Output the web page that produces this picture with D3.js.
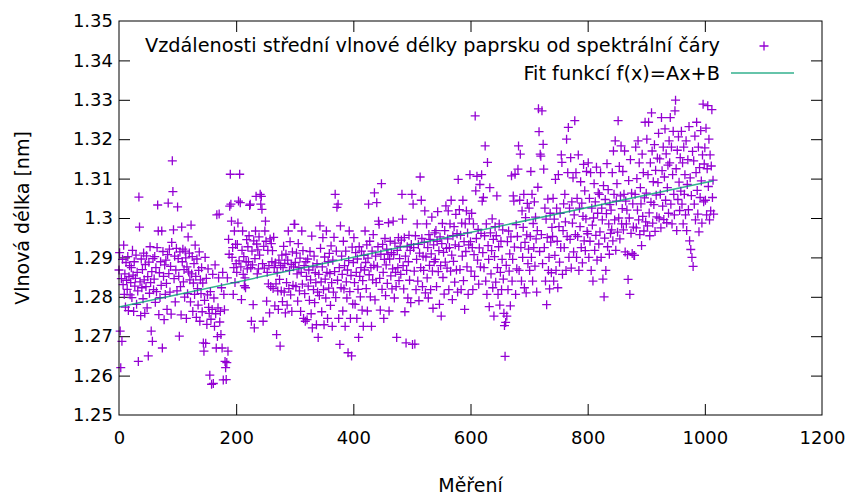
<!DOCTYPE html>
<html><head><meta charset="utf-8">
<script src="https://cdn.jsdelivr.net/npm/d3@7"></script>
<style>
body{margin:0;background:#fff}
text{font-family:"DejaVu Sans",sans-serif;fill:#000}
</style>
</head><body>
<svg id="chart" width="848" height="497"></svg>
<script>
// ---------- data ----------
const xTickValues = [0, 200, 400, 600, 800, 1000, 1200];
const xTickLabels = ["0", "200", "400", "600", "800", "1000", "1200"];
const yTickValues = [1.25, 1.26, 1.27, 1.28, 1.29, 1.30, 1.31, 1.32, 1.33, 1.34, 1.35];
const yTickLabels = ["1.25", "1.26", "1.27", "1.28", "1.29", "1.3", "1.31", "1.32", "1.33", "1.34", "1.35"];
const xTitle = "Měření";
const yTitle = "Vlnová délka [nm]";
const seriesLabel = "Vzdálenosti střední vlnové délky paprsku od spektrální čáry";
const fitLabel = "Fit funkcí f(x)=Ax+B";
const fitA = 0.0000316;   // slope
const fitB = 1.2774;      // intercept
const fitRange = [0, 1015];
const measurementStart = 0; // measurement number of the first value
const wavelengths = [
1.2868,1.2912,1.2713,1.2620,1.2846,1.2687,1.2895,1.2831,1.2931,1.2806,1.2858,1.2774,1.2887,1.2842,1.2819,1.2902,1.2765,1.2851,1.2879,1.2805,
1.2836,1.2874,1.2798,1.2918,1.2855,1.2763,1.2889,1.2827,1.2847,1.2906,1.2781,1.2862,1.2815,1.2636,1.3053,1.2977,1.2838,1.2752,1.2896,1.2823,
1.2869,1.2795,1.2911,1.2843,1.2758,1.2882,1.2826,1.2904,1.2772,1.2851,1.2650,1.2888,1.2809,1.2927,1.2836,1.2713,1.2864,1.2687,1.2897,1.2818,
1.2845,1.2902,1.2786,1.2874,1.2813,1.2925,1.3033,1.2967,1.2755,1.2861,1.2798,1.2889,1.2829,1.2967,1.2670,1.2915,1.2852,1.2742,1.2881,1.2806,
1.2893,1.2834,1.2768,1.2907,1.3038,1.2859,1.2921,1.2812,1.2877,1.2756,1.2938,1.3145,1.3067,1.2970,1.2846,1.2903,1.2787,1.2868,1.2923,1.2815,
1.3028,1.2897,1.2852,1.2700,1.2914,1.2826,1.2754,1.2977,1.2889,1.2921,1.2838,1.2869,1.2799,1.2916,1.2899,1.2745,1.2876,1.2808,1.2952,1.2863,
1.2911,1.2843,1.2787,1.2982,1.2858,1.2902,1.2763,1.2835,1.2884,1.2806,1.2931,1.2852,1.2748,1.2896,1.2821,1.2779,1.2867,1.2914,1.2738,1.2843,
1.2808,1.2874,1.2762,1.2835,1.2683,1.2662,1.2791,1.2900,1.2682,1.2847,1.2730,1.2805,1.2871,1.2773,1.2758,1.2601,1.2813,1.2743,1.2578,1.2768,
1.2857,1.2580,1.2797,1.2725,1.2881,1.2757,1.2670,1.3008,1.2699,1.2772,1.2848,1.3010,1.2736,1.2763,1.2704,1.2823,1.2670,1.2862,1.2589,1.2806,
1.2767,1.2636,1.2620,1.2590,1.2633,1.2848,1.2662,1.2946,1.2908,1.3030,1.3111,1.3035,1.2992,1.2900,1.2925,1.2806,1.2874,1.2967,1.2836,1.2933,
1.2884,1.2862,1.2933,1.2987,1.3043,1.2891,1.3111,1.3039,1.2876,1.2793,1.2918,1.2967,1.2857,1.2902,1.2828,1.2848,1.2823,1.2889,1.2945,1.2871,
1.2927,1.2889,1.2955,1.3032,1.3035,1.2874,1.2738,1.2916,1.2881,1.2780,1.2942,1.2721,1.2897,1.2967,1.3055,1.2934,1.2858,1.2919,1.2871,1.2952,
1.2906,1.3060,1.3035,1.3055,1.3022,1.2884,1.2738,1.2928,1.2873,1.2967,1.2992,1.2941,1.2789,1.2862,1.2918,1.2833,1.2879,1.2759,1.2947,1.2826,
1.2935,1.2889,1.2917,1.2821,1.2951,1.2874,1.2777,1.2886,1.2833,1.2704,1.2862,1.2815,1.2768,1.2893,1.2844,1.2675,1.2879,1.2815,1.2906,1.2788,
1.2874,1.2928,1.2812,1.2885,1.2759,1.2908,1.2836,1.2779,1.2893,1.2967,1.2821,1.2867,1.2940,1.2805,1.2882,1.2763,1.2914,1.2829,1.2876,1.2984,
1.2984,1.2887,1.2826,1.2911,1.2858,1.2789,1.2935,1.2874,1.2815,1.2898,1.2763,1.2862,1.2967,1.2832,1.2917,1.2745,1.2879,1.2808,1.2738,1.2889,
1.2852,1.2742,1.2896,1.2827,1.2868,1.2791,1.2915,1.2843,1.2757,1.2954,1.2721,1.2876,1.2818,1.2903,1.2785,1.2861,1.2836,1.2729,1.2884,1.2812,
1.2697,1.2857,1.2803,1.2980,1.2923,1.2838,1.2762,1.2876,1.2950,1.2818,1.2729,1.2901,1.2845,1.2797,1.2967,1.2862,1.2745,1.2889,1.2822,1.2910,
1.2859,1.2778,1.2929,1.2836,1.2725,1.2893,1.2812,1.2951,1.2864,1.3060,1.2798,1.2916,1.3027,1.2842,1.3035,1.2745,1.2874,1.2679,1.2980,1.2823,
1.2903,1.2857,1.2764,1.2941,1.2820,1.2879,1.2725,1.2916,1.2838,1.2797,1.2868,1.2658,1.2892,1.2967,1.2813,1.2745,1.2854,1.2650,1.2926,1.2782,
1.2887,1.2950,1.2836,1.2781,1.2912,1.2862,1.2745,1.2896,1.2819,1.2697,1.2927,1.2852,1.2800,1.2874,1.2916,1.2766,1.2841,1.2725,1.2905,1.2868,
1.2967,1.2887,1.2821,1.2932,1.2764,1.2898,1.3035,1.2856,1.2941,1.2800,1.2874,1.2725,1.2916,1.2843,1.2958,1.2880,1.3064,1.2792,1.2903,1.2836,
1.3039,1.2876,1.2927,1.2992,1.2984,1.2847,1.2766,1.2908,1.3087,1.2819,1.2933,1.2862,1.2745,1.2895,1.2948,1.2803,1.2881,1.2921,1.2834,1.2908,
1.2988,1.2764,1.2896,1.2941,1.2853,1.2912,1.2820,1.2871,1.2992,1.2907,1.2797,1.2936,1.2862,1.2826,1.2697,1.2918,1.2874,1.2950,1.2841,1.2897,
1.2928,1.2857,1.2944,1.3060,1.2997,1.2879,1.2820,1.2950,1.2762,1.2903,1.2683,1.2867,1.2927,1.2797,1.2889,1.2956,1.2842,1.2918,1.2785,1.2933,
1.3060,1.2679,1.3035,1.2925,1.2865,1.2680,1.2955,1.2818,1.2895,1.2985,1.2840,1.2933,1.2790,1.2911,1.3104,1.2874,1.3045,1.2948,1.2826,1.2903,
1.2867,1.2938,1.3018,1.2810,1.2901,1.2985,1.2848,1.2925,1.2797,1.2958,1.2880,1.2946,1.2818,1.2909,1.3002,1.2865,1.2771,1.2932,1.2889,1.2962,
1.2895,1.2968,1.2826,1.2941,1.3016,1.2864,1.2917,1.2781,1.2952,1.2879,1.2751,1.2935,1.2986,1.2849,1.2913,1.2807,1.2968,1.2888,1.3031,1.2923,
1.2873,1.2947,1.3018,1.2818,1.2925,1.2985,1.2865,1.3045,1.2906,1.2793,1.2955,1.2890,1.2978,1.2837,1.2932,1.3009,1.2868,1.2960,1.2812,1.3098,
1.2928,1.3021,1.2869,1.2956,1.2818,1.2987,1.2903,1.3045,1.2841,1.2940,1.2768,1.2985,1.2915,1.3018,1.2876,1.2962,1.2806,1.2932,1.2998,1.3110,
1.2940,1.2865,1.3012,1.2925,1.2818,1.2985,1.2907,1.2852,1.3259,1.3069,1.2948,1.3106,1.2893,1.2971,1.2832,1.2924,1.3085,1.2876,1.2961,1.3110,
1.3043,1.2912,1.3052,1.2874,1.2955,1.3183,1.2840,1.2985,1.2806,1.3141,1.2930,1.2895,1.2775,1.3077,1.2962,1.2858,1.2917,1.2998,1.2823,1.2946,
1.2751,1.2902,1.2978,1.2837,1.2955,1.3056,1.2874,1.2806,1.2927,1.2985,1.2779,1.2862,1.2941,1.2818,1.2895,1.2970,1.2845,1.2758,1.2727,1.2649,
1.2735,1.2880,1.2751,1.2940,1.2818,1.2967,1.2865,1.2909,1.2777,1.2952,1.3107,1.2840,1.2895,1.3056,1.3043,1.2926,1.3111,1.2806,1.2983,1.2871,
1.2953,1.3124,1.3183,1.2867,1.3045,1.3162,1.2925,1.2840,1.3018,1.2900,1.2976,1.3060,1.2823,1.2938,1.3001,1.2810,1.2957,1.3037,1.2884,1.2921,
1.3025,1.2867,1.2953,1.3118,1.2900,1.3060,1.2840,1.2986,1.2925,1.3041,1.2878,1.3002,1.2947,1.2812,1.2968,1.3078,1.3277,1.3219,1.2915,1.3162,
1.3157,1.2958,1.3272,1.2884,1.3187,1.3124,1.2925,1.3025,1.2840,1.2997,1.2780,1.2950,1.3048,1.2867,1.2900,1.2820,1.3012,1.2939,1.2861,1.2976,
1.2953,1.3050,1.2840,1.2997,1.2905,1.3098,1.2867,1.3025,1.2941,1.2823,1.3110,1.2978,1.2888,1.3012,1.2925,1.3160,1.3141,1.2857,1.2968,1.3036,
1.2925,1.3060,1.2990,1.2867,1.3200,1.2953,1.3115,1.3230,1.2900,1.3025,1.2946,1.3153,1.2873,1.3041,1.2987,1.3102,1.2914,1.3008,1.3247,1.2958,
1.3115,1.2900,1.3050,1.2953,1.3160,1.2867,1.3025,1.2978,1.3092,1.2925,1.3038,1.2886,1.3004,1.3136,1.2942,1.3069,1.2917,1.2998,1.3118,1.2966,
1.2960,1.3140,1.2900,1.3050,1.2941,1.3115,1.2867,1.3025,1.2982,1.2840,1.3000,1.3087,1.2918,1.3041,1.2956,1.3129,1.2893,1.3012,1.3064,1.2934,
1.3060,1.2965,1.3115,1.2900,1.3025,1.2995,1.2845,1.3082,1.2800,1.2949,1.3047,1.2867,1.3011,1.3138,1.2927,1.3072,1.2985,1.2908,1.3034,1.2961,
1.3020,1.2970,1.3115,1.2942,1.3170,1.3060,1.2995,1.3196,1.2918,1.3043,1.3087,1.2964,1.3247,1.3000,1.3131,1.2947,1.3056,1.3183,1.2985,1.3024,
1.3118,1.2970,1.3060,1.3170,1.2914,1.3043,1.2985,1.3020,1.2907,1.2844,1.3095,1.3000,1.2806,1.3148,1.2961,1.3063,1.2910,1.3036,1.2977,1.2905,
1.2905,1.3060,1.3180,1.2975,1.3100,1.3020,1.3196,1.2995,1.3140,1.2958,1.3077,1.3036,1.2930,1.3162,1.3004,1.3115,1.2967,1.3051,1.3243,1.2990,
1.3063,1.3200,1.2980,1.3110,1.3243,1.3013,1.2955,1.3140,1.3040,1.3267,1.3170,1.2987,1.3092,1.3034,1.3186,1.2966,1.3121,1.3058,1.3003,1.3152,
1.3090,1.3215,1.3000,1.3150,1.3060,1.2975,1.3255,1.3120,1.3030,1.3180,1.2996,1.3104,1.3226,1.3045,1.3163,1.2988,1.3077,1.3134,1.3012,1.3196,
1.3140,1.3255,1.3035,1.3180,1.2985,1.3110,1.3220,1.3060,1.3008,1.3272,1.3299,1.3125,1.2968,1.3172,1.3047,1.3206,1.3091,1.3019,1.3153,1.3068,
1.3220,1.3035,1.3140,1.2985,1.3180,1.3060,1.3110,1.3008,1.3196,1.2968,1.3085,1.3148,1.3021,1.3232,1.2942,1.3102,1.2920,1.3057,1.2900,1.3169,
1.2877,1.3145,1.3035,1.3208,1.2995,1.3115,1.3243,1.3070,1.3010,1.3180,1.2965,1.3128,1.3052,1.3222,1.3094,1.2987,1.3160,1.3289,1.3041,1.3137,
1.3178,1.3045,1.3228,1.3008,1.3125,1.3285,1.3080,1.3200,1.2995,1.3160,1.3018,1.3132,1.3275,1.3052,1.3096,1.3010
];

// ---------- drawing ----------
const W = 848, H = 497;
const plot = {left: 119, right: 822, top: 21, bottom: 415};
const pointColor = "#9400d3", fitColor = "#009e73";

const svg = d3.select("#chart");
const x = d3.scaleLinear().domain([xTickValues[0], xTickValues[xTickValues.length - 1]]).range([plot.left, plot.right]);
const y = d3.scaleLinear().domain([yTickValues[0], yTickValues[yTickValues.length - 1]]).range([plot.bottom, plot.top]);

const tickLen = 11;
const fmtX = (d) => xTickLabels[xTickValues.indexOf(d)];
const fmtY = (d) => yTickLabels[yTickValues.indexOf(d)];

function styleAxis(g, showText) {
  g.select(".domain").remove();
  g.selectAll(".tick line").attr("stroke", "#000").attr("stroke-width", 1);
  if (!showText) g.selectAll(".tick text").remove();
  else g.selectAll(".tick text").attr("font-size", 18).attr("font-family", "DejaVu Sans").attr("fill", "#000");
}

// bottom & left axes with labels (ticks pointing inward)
svg.append("g").attr("transform", `translate(0,${plot.bottom})`)
  .call(d3.axisBottom(x).tickValues(xTickValues).tickFormat(fmtX).tickSizeInner(-tickLen).tickSizeOuter(0).tickPadding(16))
  .call(g => styleAxis(g, true));
svg.append("g").attr("transform", `translate(${plot.left},0)`)
  .call(d3.axisLeft(y).tickValues(yTickValues).tickFormat(fmtY).tickSizeInner(-tickLen).tickSizeOuter(0).tickPadding(6))
  .call(g => styleAxis(g, true));
// mirrored ticks top & right
svg.append("g").attr("transform", `translate(0,${plot.top})`)
  .call(d3.axisTop(x).tickValues(xTickValues.slice(1, -1)).tickSizeInner(-tickLen).tickSizeOuter(0))
  .call(g => styleAxis(g, false));
svg.append("g").attr("transform", `translate(${plot.right},0)`)
  .call(d3.axisRight(y).tickValues(yTickValues.slice(1, -1)).tickSizeInner(-tickLen).tickSizeOuter(0))
  .call(g => styleAxis(g, false));
// remove corner ticks that coincide with the frame
svg.selectAll(".tick").filter(d => d === xTickValues[0] || d === xTickValues[xTickValues.length-1] || d === yTickValues[0] || d === yTickValues[yTickValues.length-1])
  .select("line").remove();

// data points
const points = wavelengths.map((v, i) => ({m: measurementStart + i, v}));
const cross = "M-4.5,0H4.5M0,-4.5V4.5";
svg.append("g").selectAll("path").data(points).join("path")
  .attr("d", cross)
  .attr("transform", d => `translate(${x(d.m)},${y(d.v)})`)
  .attr("stroke", pointColor).attr("stroke-width", 1.3).attr("fill", "none");

// fit line
const fitPts = fitRange.map(m => [m, fitA * m + fitB]);
svg.append("path")
  .attr("d", d3.line().x(d => x(d[0])).y(d => y(d[1]))(fitPts))
  .attr("stroke", fitColor).attr("stroke-width", 1.5).attr("fill", "none").attr("opacity", 0.8);

// frame
svg.append("rect").attr("x", plot.left).attr("y", plot.top)
  .attr("width", plot.right - plot.left).attr("height", plot.bottom - plot.top)
  .attr("fill", "none").attr("stroke", "#000").attr("stroke-width", 1);

// axis titles
svg.append("text").attr("x", (plot.left + plot.right) / 2).attr("y", 486)
  .attr("text-anchor", "middle").attr("dominant-baseline", "middle").attr("font-size", 19).text(xTitle);
svg.append("text").attr("transform", `translate(23,${(plot.top + plot.bottom) / 2}) rotate(-90)`)
  .attr("text-anchor", "middle").attr("dominant-baseline", "middle").attr("font-size", 19).text(yTitle);

// legend
const legend = svg.append("g");
legend.append("text").attr("x", 720).attr("y", 46).attr("text-anchor", "end")
  .attr("dominant-baseline", "middle").attr("font-size", 19.3).text(seriesLabel);
legend.append("path").attr("d", cross).attr("transform", "translate(764,46)")
  .attr("stroke", pointColor).attr("stroke-width", 1.3).attr("fill", "none");
legend.append("text").attr("x", 720).attr("y", 74).attr("text-anchor", "end")
  .attr("dominant-baseline", "middle").attr("font-size", 19.3).text(fitLabel);
legend.append("line").attr("x1", 731).attr("x2", 794).attr("y1", 73).attr("y2", 73)
  .attr("stroke", fitColor).attr("stroke-width", 1.5).attr("opacity", 0.8);
</script>
</body></html>
